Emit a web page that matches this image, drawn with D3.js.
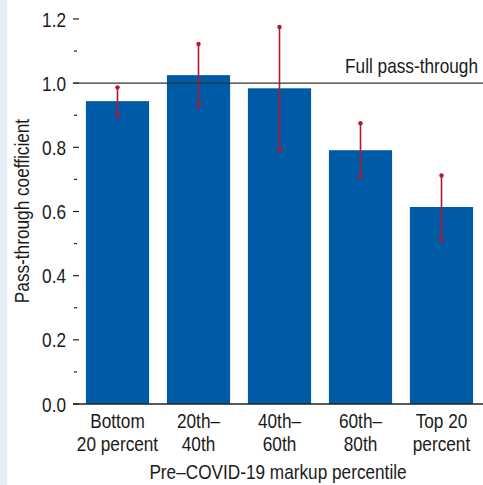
<!DOCTYPE html>
<meta charset="utf-8">
<title>Pass-through by markup percentile</title>
<style>
html, body {
  margin: 0;
  padding: 0;
  width: 483px;
  height: 485px;
  background: #fff;
}
svg { display: block; }
text {
  font-family: "Liberation Sans", Arial, sans-serif;
  font-size: 21px;
  fill: #1a1a1a;
}
</style>
<body>
<svg width="483" height="485"></svg>
</body>
<script src="https://d3js.org/d3.v7.min.js"></script>
<script>

var categories = [["Bottom", "20 percent"], ["20th–", "40th"], ["40th–", "60th"], ["60th–", "80th"], ["Top 20", "percent"]];
var coef  = [0.944, 1.025, 0.984, 0.791, 0.614];
var upper = [0.987, 1.122, 1.175, 0.875, 0.712];
var lower = [0.899, 0.930, 0.792, 0.709, 0.511];
var majorTicks = [0, 0.2, 0.4, 0.6, 0.8, 1.0, 1.2];
var minorTicks = [0.1, 0.3, 0.5, 0.7, 0.9, 1.1];

// narrow type: Liberation Sans squeezed horizontally
var narrow = 0.82;
function place(x, y, rot) {
  return "translate(" + x + "," + y + ")" + (rot ? " rotate(" + rot + ")" : "") + " scale(" + narrow + ",1)";
}

var svg = d3.select("svg");

// light strip on the left edge
svg.append("rect")
    .attr("x", 0).attr("y", 0)
    .attr("width", 7).attr("height", 485)
    .attr("fill", "#e5edf7");

var margin = {left: 73, right: 0, top: 19, bottom: 81};
var width = 483, height = 485;

var y = d3.scaleLinear()
    .domain([0, 1.2])
    .range([height - margin.bottom, margin.top]);

var x = d3.scaleBand()
    .domain(d3.range(categories.length))
    .range([77, 482])
    .paddingInner(0.22)
    .paddingOuter(0.11);

// y axis ticks
var yAxis = svg.append("g");
yAxis.selectAll("line.major")
  .data(majorTicks)
  .enter().append("line")
    .attr("x1", 73).attr("x2", 79)
    .attr("y1", function(d) { return y(d); })
    .attr("y2", function(d) { return y(d); })
    .attr("stroke", "#222").attr("stroke-width", 1.2);

yAxis.selectAll("line.minor")
  .data(minorTicks)
  .enter().append("line")
    .attr("x1", 74).attr("x2", 77)
    .attr("y1", function(d) { return y(d); })
    .attr("y2", function(d) { return y(d); })
    .attr("stroke", "#222").attr("stroke-width", 1.2);

yAxis.selectAll("text")
  .data(majorTicks)
  .enter().append("text")
    .attr("transform", function(d) { return place(66, y(d)); })
    .attr("dy", "0.36em")
    .attr("text-anchor", "end")
    .text(function(d) { return d3.format(".1f")(d); });

// bars
svg.append("g").selectAll("rect")
  .data(coef)
  .enter().append("rect")
    .attr("x", function(d, i) { return x(i); })
    .attr("y", function(d) { return y(d); })
    .attr("width", x.bandwidth())
    .attr("height", function(d) { return y(0) - y(d); })
    .attr("fill", "#005ba6");

// full pass-through line
svg.append("line")
    .attr("x1", 73).attr("x2", width)
    .attr("y1", y(1)).attr("y2", y(1))
    .attr("stroke", "#333").attr("stroke-width", 1.3);

svg.append("text")
    .attr("transform", place(478, y(1) - 10))
    .attr("text-anchor", "end")
    .text("Full pass-through");

// error bars
var err = svg.append("g").selectAll("g")
  .data(coef)
  .enter().append("g");

err.append("line")
    .attr("x1", function(d, i) { return x(i) + x.bandwidth() / 2; })
    .attr("x2", function(d, i) { return x(i) + x.bandwidth() / 2; })
    .attr("y1", function(d, i) { return y(upper[i]); })
    .attr("y2", function(d, i) { return y(lower[i]); })
    .attr("stroke", "#b5172f").attr("stroke-width", 1.6);

err.selectAll("circle")
  .data(function(d, i) { return [[i, upper[i]], [i, lower[i]]]; })
  .enter().append("circle")
    .attr("cx", function(d) { return x(d[0]) + x.bandwidth() / 2; })
    .attr("cy", function(d) { return y(d[1]); })
    .attr("r", 2.2)
    .attr("fill", "#b5172f");

// baseline
svg.append("line")
    .attr("x1", 73).attr("x2", width)
    .attr("y1", y(0)).attr("y2", y(0))
    .attr("stroke", "#222").attr("stroke-width", 1.3);

// category labels
var lab = svg.append("g").selectAll("text")
  .data(categories)
  .enter().append("text")
    .attr("transform", function(d, i) { return place(x(i) + x.bandwidth() / 2, 0); })
    .attr("text-anchor", "middle");

lab.selectAll("tspan")
  .data(function(d) { return d; })
  .enter().append("tspan")
    .attr("x", 0)
    .attr("y", function(d, j) { return 428 + j * 23; })
    .text(function(d) { return d; });

// axis titles
svg.append("text")
    .attr("transform", place(278, 479))
    .attr("text-anchor", "middle")
    .text("Pre–COVID-19 markup percentile");

svg.append("text")
    .attr("transform", place(29, 211, -90))
    .attr("text-anchor", "middle")
    .text("Pass-through coefficient");

</script>
